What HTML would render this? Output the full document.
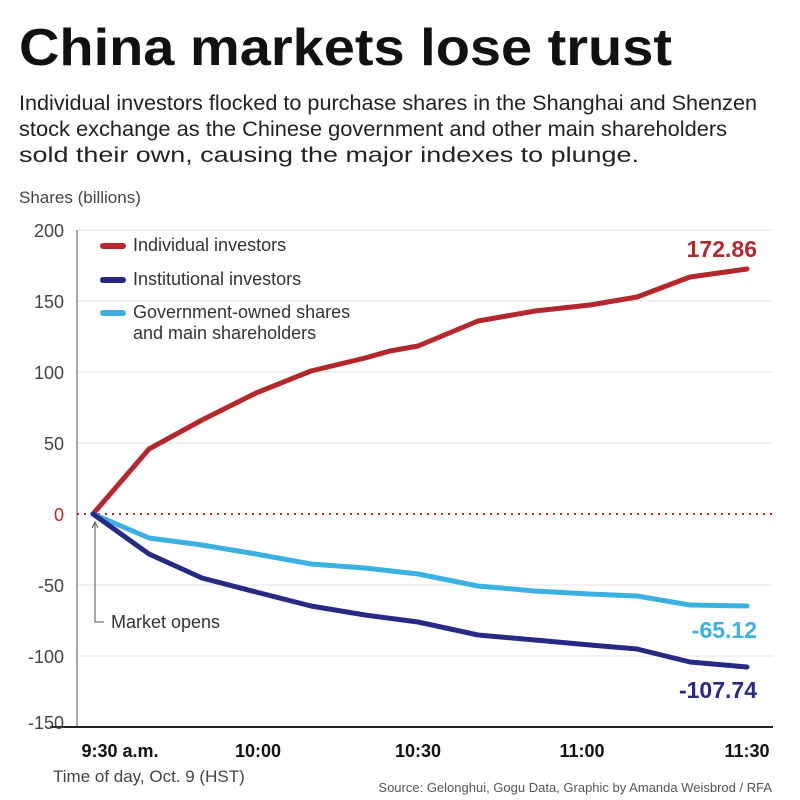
<!DOCTYPE html>
<html><head><meta charset="utf-8"><style>
body{margin:0;background:#fff}
svg{display:block;font-family:"Liberation Sans",sans-serif}
</style></head><body>
<svg width="800" height="800" viewBox="0 0 800 800">
<text x="19" y="65" font-size="52" font-weight="bold" fill="#111" textLength="653" lengthAdjust="spacingAndGlyphs">China markets lose trust</text>
<g font-size="21" fill="#222">
<text x="19" y="110" textLength="738" lengthAdjust="spacingAndGlyphs">Individual investors flocked to purchase shares in the Shanghai and Shenzen</text>
<text x="19" y="136" textLength="708" lengthAdjust="spacingAndGlyphs">stock exchange as the Chinese government and other main shareholders</text>
<text x="19" y="162" textLength="620" lengthAdjust="spacingAndGlyphs">sold their own, causing the major indexes to plunge.</text>
</g>
<text x="19" y="203" font-size="17" fill="#444">Shares (billions)</text>
<g stroke="#e4e4e4" stroke-width="1">
<line x1="77" y1="230" x2="773" y2="230"/><line x1="77" y1="301" x2="773" y2="301"/>
<line x1="77" y1="372" x2="773" y2="372"/><line x1="77" y1="443" x2="773" y2="443"/>
<line x1="77" y1="585" x2="773" y2="585"/><line x1="77" y1="656" x2="773" y2="656"/>
</g>
<line x1="77" y1="230" x2="77" y2="727" stroke="#555" stroke-width="1"/>
<line x1="50" y1="727" x2="773" y2="727" stroke="#222" stroke-width="2"/>
<line x1="77" y1="514" x2="773" y2="514" stroke="#b02a2a" stroke-width="2" stroke-dasharray="2,5"/>
<g font-size="18" fill="#444" text-anchor="end">
<text x="64" y="237">200</text><text x="64" y="308">150</text><text x="64" y="379">100</text>
<text x="64" y="450">50</text><text x="64" y="521" fill="#b02a2a">0</text><text x="64" y="592">-50</text>
<text x="64" y="663">-100</text><text x="64" y="729">-150</text>
</g>
<g font-size="18" font-weight="bold" fill="#111" text-anchor="middle">
<text x="120" y="757">9:30 a.m.</text><text x="258" y="757">10:00</text><text x="418" y="757">10:30</text>
<text x="582" y="757">11:00</text><text x="747" y="757">11:30</text>
</g>
<text x="53" y="782" font-size="17" fill="#444">Time of day, Oct. 9 (HST)</text>
<text x="772" y="792" font-size="13" fill="#555" text-anchor="end">Source: Gelonghui, Gogu Data, Graphic by Amanda Weisbrod / RFA</text>
<path d="M95 524 V622 H104" fill="none" stroke="#555" stroke-width="1"/>
<path d="M92 528 L95 522 L98 528" fill="none" stroke="#555" stroke-width="1"/>
<text x="111" y="628" font-size="18" fill="#333">Market opens</text>
<g fill="none" stroke-width="5" stroke-linejoin="round" stroke-linecap="round">
<polyline stroke="#b3272d" points="93,514 149,449 202,420 256,393 311,371 365,358 390,351 418,346 478,321 535,311 590,305 637,297 690,277 747,269"/>
<polyline stroke="#3bb0e2" points="93,514 149,538 202,545 256,554 311,564 365,568 418,574 478,586 535,591 590,594 637,596 690,605 747,606"/>
<polyline stroke="#262a85" points="93,514 149,554 202,578 256,592 311,606 365,615 418,622 478,635 535,640 590,645 637,649 690,662 747,667"/>
</g>
<g stroke-width="6" stroke-linecap="round">
<line x1="103" y1="246" x2="123" y2="246" stroke="#b3272d"/>
<line x1="103" y1="280" x2="123" y2="280" stroke="#262a85"/>
<line x1="103" y1="313" x2="123" y2="313" stroke="#3bb0e2"/>
</g>
<g font-size="18" fill="#333">
<text x="133" y="251">Individual investors</text>
<text x="133" y="285">Institutional investors</text>
<text x="133" y="318">Government-owned shares</text>
<text x="133" y="339">and main shareholders</text>
</g>
<g font-size="23" font-weight="bold" text-anchor="end">
<text x="757" y="257" fill="#b3272d">172.86</text>
<text x="757" y="638" fill="#3bb0e2">-65.12</text>
<text x="757" y="698" fill="#262a85">-107.74</text>
</g>
</svg>
</body></html>
